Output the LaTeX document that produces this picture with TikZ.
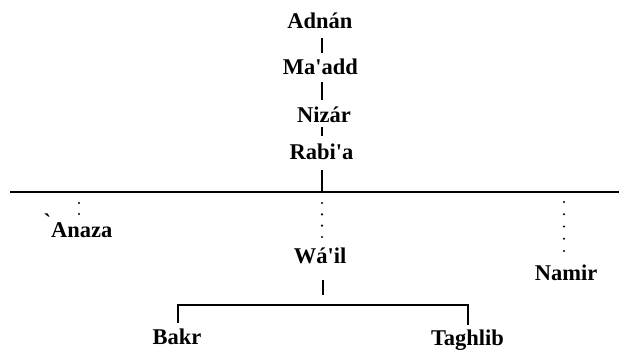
\documentclass[tikz,border=0pt]{standalone}
\usepackage{fontspec}
\setmainfont{Liberation Serif}[Ligatures=TeXOff]
\newfontfamily\treefont{Liberation Serif}[Ligatures=TeXOff]
\usetikzlibrary{calc}
\begin{document}
\begin{tikzpicture}[x=1pt,y=-1pt,
  person/.style={font=\treefont\bfseries\fontsize{22.5}{26}\selectfont, inner sep=2pt,
                 text height=16pt, text depth=5pt, anchor=base},
  trunk/.style={line width=1.6pt},
  bar/.style={line width=2.4pt},
  bracket/.style={line width=1.8pt, line join=miter},
  dotline/.style={line width=2.4pt, line cap=round, dash pattern=on 0pt off #1},
  dotline/.default=11.33pt]
\useasboundingbox (0,0) rectangle (619,354);

% names
\node[person] (adnan)   at (320,28)    {Adnán};
\node[person] (maadd)   at (320.5,74)  {Ma'add};
\node[person] (nizar)   at (324,122)   {Nizár};
\node[person] (rabia)   at (321.5,159) {Rabi'a};
\node[person] (anaza)   at (78,237)    {\raisebox{8pt}{`}Anaza};
\node[person] (wail)    at (320,263)   {Wá'il};
\node[person] (namir)   at (566,280)   {Namir};
\node[person] (bakr)    at (177,344)   {Bakr};
\node[person] (taghlib) at (467.5,345) {Taghlib};

% helper coordinates
\coordinate (spine) at (322,0);
\coordinate (mainL) at (10,192);
\coordinate (mainR) at (619,192);
\coordinate (brL) at (178,305);
\coordinate (brR) at (468,305);

% upper line of descent
\draw[trunk] ($(adnan.base -| spine)+(0,10)$) -- ($(maadd.base -| spine)+(0,-21)$);
\draw[trunk] ($(maadd.base -| spine)+(0,8)$)  -- ($(nizar.base -| spine)+(0,-22)$);
\draw[trunk] ($(nizar.base -| spine)+(0,5)$)  -- ($(rabia.base -| spine)+(0,-23)$);
\draw[trunk] ($(rabia.base -| spine)+(0,11)$) -- (spine |- mainL);

% main horizontal line
\draw[bar] (mainL) -- (mainR);

% dotted descents
\draw[dotline=11pt] ($(anaza.base)+(1,-34)$) -- ($(anaza.base)+(1,-22.5)$);
\draw[dotline] ($(wail.base -| spine)+(0,-60)$) -- ($(wail.base -| spine)+(0,-25.5)$);
\draw[dotline=12.25pt] ($(namir.base)+(-2,-78)$) -- ($(namir.base)+(-2,-28.8)$);

% Wa'il to Bakr and Taghlib
\draw[trunk] ($(wail.base -| spine)+(1,17)$) -- ($(spine |- brL)+(1,-10)$);
\draw[bracket] ($(bakr.base -| brL)+(0,-21)$) -- (brL) -- (brR) -- ($(taghlib.base -| brR)+(0,-20)$);
\end{tikzpicture}
\end{document}
